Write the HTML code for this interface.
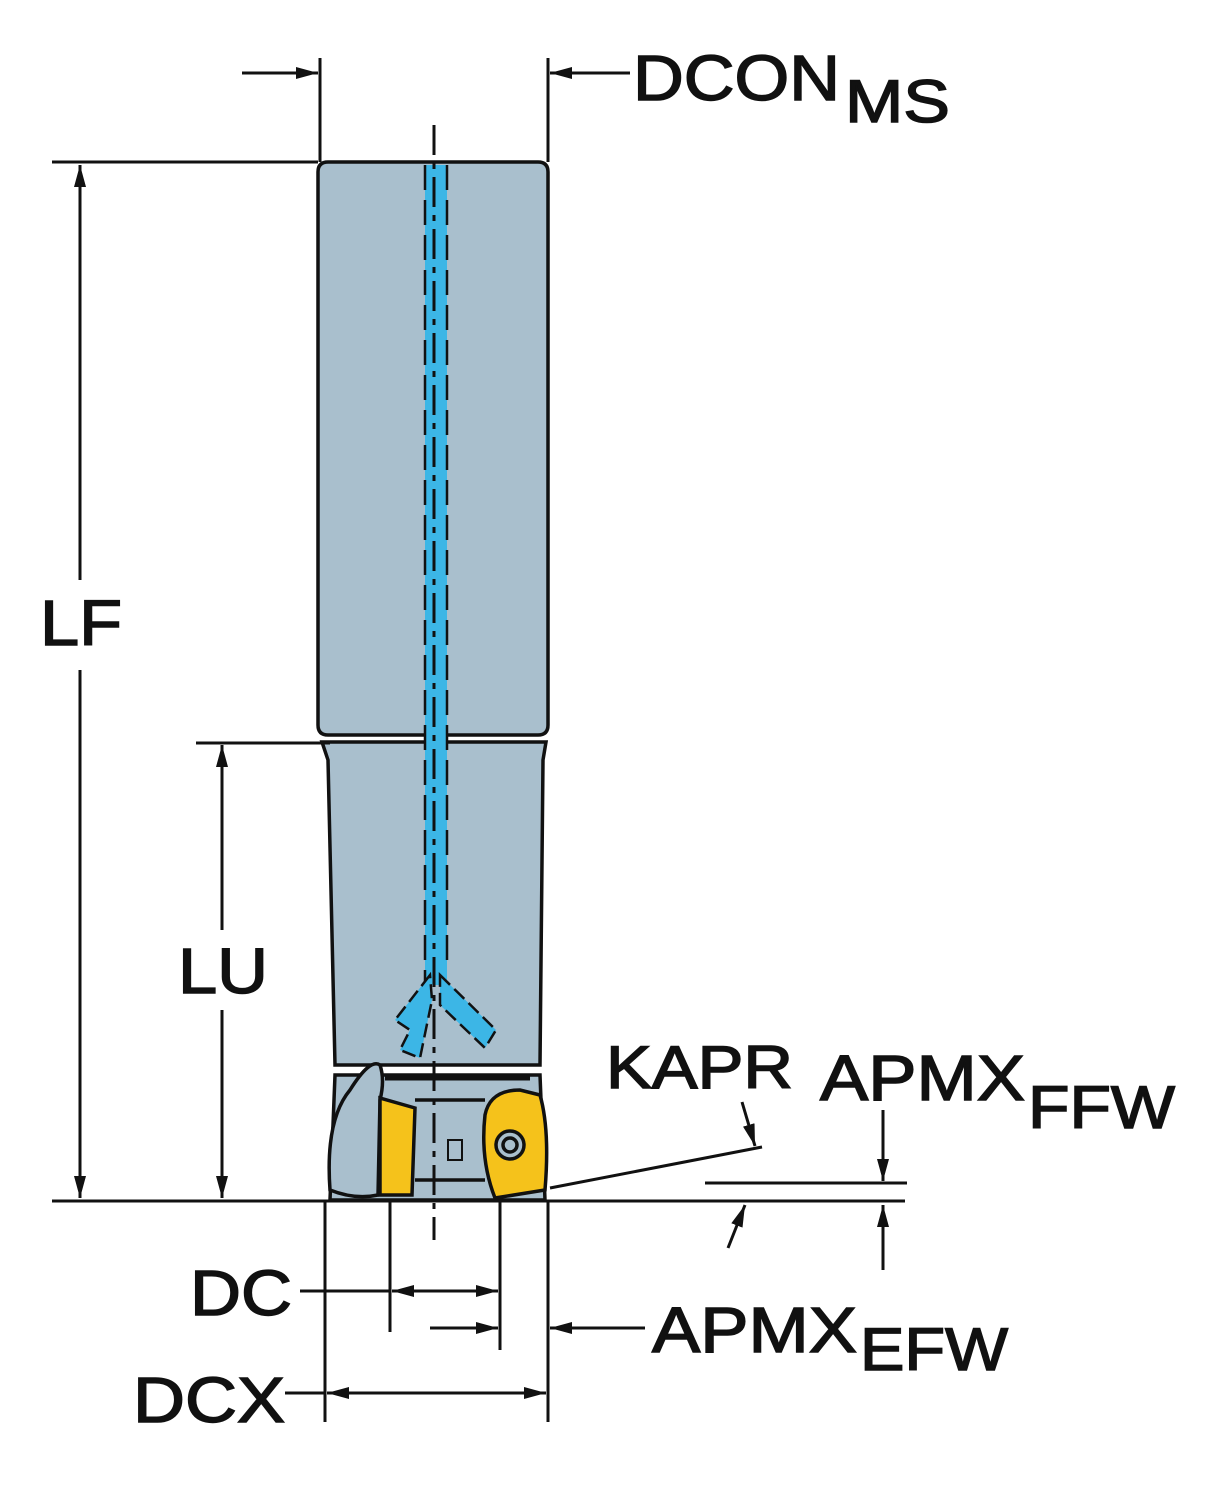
<!DOCTYPE html>
<html><head><style>body{margin:0;background:#fff}svg{display:block}text{font-family:"Liberation Sans",sans-serif;fill:#111;stroke:#111;stroke-width:1.5}</style></head><body>
<svg width="1205" height="1500" viewBox="0 0 1205 1500" xmlns="http://www.w3.org/2000/svg">
<defs>
<marker id="a" viewBox="0 0 22 12" refX="22" refY="6" markerWidth="22" markerHeight="12" markerUnits="userSpaceOnUse" orient="auto"><path d="M0,0 L22,6 L0,12 z" fill="#111"/></marker>
</defs>
<g stroke="#111" fill="none" stroke-width="3.5">
<path d="M318,172 Q318,162 328,162 L538,162 Q548,162 548,172 L548,725 Q548,735 538,735 L328,735 Q318,735 318,725 Z" fill="#a9bfcd"/>
<path d="M322,742 L546,742 L543,760 L540,1065 L335,1065 L328,760 Z" fill="#a9bfcd"/>
<path d="M335,1075 L540,1075 L545,1200 L330,1200 Z" fill="#a9bfcd"/>
<path d="M385,1078 L530,1078" stroke-width="5"/>
<path d="M330,1190 Q325,1120 350,1090 Q370,1058 380,1065 Q385,1080 380,1100 L378,1195 Q355,1200 330,1190 Z" fill="#a9bfcd"/>
<path d="M380,1098 L415,1108 L412,1195 L380,1195 Z" fill="#f5c21b"/>
<path d="M485,1115 Q490,1090 520,1090 L540,1095 Q550,1130 545,1190 L495,1198 Q480,1160 485,1115 Z" fill="#f5c21b"/>
<circle cx="510" cy="1145" r="14" fill="#a9bfcd"/><circle cx="510" cy="1145" r="7"/>
<path d="M415,1100 L485,1100 M415,1180 L485,1180"/>
<path d="M448,1140 L462,1140 L462,1160 L448,1160 Z" stroke-width="2"/>
</g>
<g>
<rect x="425" y="165" width="22" height="820" fill="#3cb6e6"/>
<path d="M425,165 V985 M447,165 V960" stroke="#111" stroke-width="2.5" stroke-dasharray="25,10" fill="none"/>
<path d="M430,975 L395,1020 L410,1030 L400,1050 L420,1058 L432,1000 Z" fill="#3cb6e6" stroke="#111" stroke-width="2.5" stroke-dasharray="14,6"/>
<path d="M440,975 L496,1030 L485,1048 L440,1005 Z" fill="#3cb6e6" stroke="#111" stroke-width="2.5" stroke-dasharray="14,6"/>
</g>
<g stroke="#111" stroke-width="3" fill="none">
<path d="M434,125 V1240" stroke-dasharray="30,8,6,8"/>
<path d="M52,162 H318"/>
<path d="M320,58 V162 M548,58 V162"/>
<path d="M242,73 H318" marker-end="url(#a)"/>
<path d="M630,73 H550" marker-end="url(#a)"/>
<path d="M80,580 V165" marker-end="url(#a)"/>
<path d="M80,670 V1198" marker-end="url(#a)"/>
<path d="M52,1201 H905"/>
<path d="M196,743 H330"/>
<path d="M222,930 V745" marker-end="url(#a)"/>
<path d="M222,1010 V1198" marker-end="url(#a)"/>
<path d="M325,1200 V1422 M548,1200 V1422 M390,1200 V1332 M500,1200 V1350"/>
<path d="M300,1291 H390"/>
<path d="M445,1291 H392" marker-end="url(#a)"/>
<path d="M445,1291 H498" marker-end="url(#a)"/>
<path d="M430,1328 H498" marker-end="url(#a)"/>
<path d="M645,1328 H550" marker-end="url(#a)"/>
<path d="M285,1393 H325"/>
<path d="M437,1393 H327" marker-end="url(#a)"/>
<path d="M437,1393 H546" marker-end="url(#a)"/>
<path d="M550,1188 L762,1147"/>
<path d="M742,1102 L755,1146" marker-end="url(#a)"/>
<path d="M705,1183 H907"/>
<path d="M728,1248 L745,1205" marker-end="url(#a)"/>
<path d="M883,1110 V1181" marker-end="url(#a)"/>
<path d="M883,1270 V1205" marker-end="url(#a)"/>
</g>
<g font-size="64">
<text x="633" y="100" textLength="207" lengthAdjust="spacingAndGlyphs">DCON</text><text x="845" y="122" font-size="60" textLength="105" lengthAdjust="spacingAndGlyphs">MS</text>
<text x="40" y="645" textLength="82" lengthAdjust="spacingAndGlyphs">LF</text>
<text x="178" y="993" textLength="90" lengthAdjust="spacingAndGlyphs">LU</text>
<text x="606" y="1088" font-size="60" textLength="187" lengthAdjust="spacingAndGlyphs">KAPR</text>
<text x="820" y="1100" textLength="205" lengthAdjust="spacingAndGlyphs">APMX</text><text x="1028" y="1128" font-size="60" textLength="147" lengthAdjust="spacingAndGlyphs">FFW</text>
<text x="190" y="1315" textLength="102" lengthAdjust="spacingAndGlyphs">DC</text>
<text x="652" y="1352" textLength="205" lengthAdjust="spacingAndGlyphs">APMX</text><text x="860" y="1370" font-size="60" textLength="148" lengthAdjust="spacingAndGlyphs">EFW</text>
<text x="133" y="1422" textLength="152" lengthAdjust="spacingAndGlyphs">DCX</text>
</g>
</svg>
</body></html>
